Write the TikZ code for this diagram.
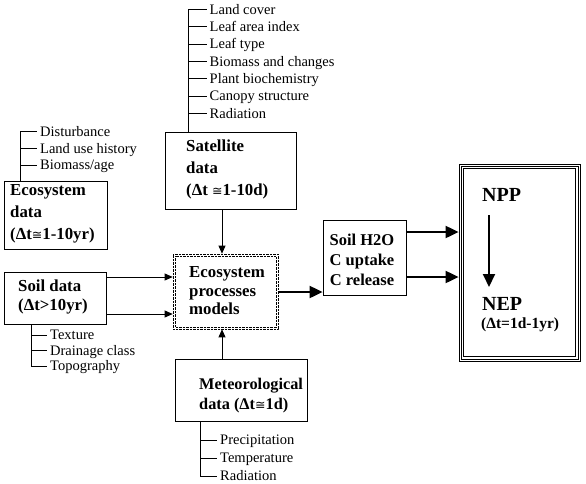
\documentclass[tikz,border=0pt]{standalone}
\usepackage{fontspec}
\setmainfont{Liberation Serif}
\newfontfamily\symfont{DejaVu Sans}
\newcommand{\cg}{{\symfont\mdseries\fontsize{12.5}{13}\selectfont ≅}}
\usetikzlibrary{arrows.meta}
\begin{document}
\begin{tikzpicture}[x=1pt,y=-1pt,
  box/.style={draw,line width=0.8pt,inner sep=0pt},
  dotline/.style={line width=0.7pt,dash pattern=on 0.7pt off 0.7pt},
  boxtxt/.style={font=\bfseries\fontsize{16.8}{22}\selectfont,align=left,inner sep=0pt,anchor=west},
  item/.style={font=\fontsize{14.5}{17}\selectfont,anchor=west,inner sep=0pt,text height=10pt,text depth=3pt},
  bracket/.style={line width=0.8pt},
  thinarrow/.style={line width=0.8pt,-{Triangle[length=8pt,width=7pt]}},
  thickarrow/.style={line width=2pt,-{Triangle[length=13pt,width=12pt]}}]
\useasboundingbox (0,0) rectangle (586,483);

% boxes
\node[box,minimum width=103pt,minimum height=68pt] (eco) at (55.5,215) {};
\node[box,minimum width=131pt,minimum height=77pt] (sat) at (230.5,170.5) {};
\node[box,minimum width=102pt,minimum height=52pt] (soil) at (55,298) {};
\node[draw,dotline,minimum width=105pt,minimum height=75pt,inner sep=0pt] (proc) at (225.5,291.5) {};
\draw[dotline] ([shift={(2.5,2.5)}]proc.north west) rectangle ([shift={(-2.5,-2.5)}]proc.south east);
\node[box,minimum width=132pt,minimum height=62pt] (met) at (241,390) {};
\node[box,minimum width=83pt,minimum height=75pt] (h2o) at (364.5,257.5) {};
\node[box,minimum width=121pt,minimum height=197pt] (npp) at (519.5,262.5) {};
\draw[line width=0.8pt] ([shift={(2.5,2.5)}]npp.north west) rectangle ([shift={(-2.5,-2.5)}]npp.south east);
\draw[line width=0.8pt] ([shift={(5,5)}]npp.north west) rectangle ([shift={(-5,-5)}]npp.south east);

% box texts
\node[boxtxt] (ecot) at (10,214) {Ecosystem\\data\\(Δt\cg1-10yr)};
\node[boxtxt] (satt) at (186,169) {Satellite\\data\\(Δt \cg1-10d)};
\node[boxtxt,font=\bfseries\fontsize{16.8}{18.5}\selectfont] (proct) at (189,291) {Ecosystem\\processes\\models};
\node[boxtxt,font=\bfseries\fontsize{16.8}{19}\selectfont] (soilt) at (18,297) {Soil data\\(Δt>10yr)};
\node[boxtxt,font=\bfseries\fontsize{16.3}{20}\selectfont] (mett) at (199,396) {Meteorological\\data (Δt\cg1d)};
\node[boxtxt,anchor=center,align=center,font=\bfseries\fontsize{16.5}{20}\selectfont] (h2ot) at (362,260) {Soil H2O\\C uptake\\C release};
\node[boxtxt,font=\bfseries\fontsize{20}{24}\selectfont] (nppt) at (482,195) {NPP};
\node[boxtxt,font=\bfseries\fontsize{20}{24}\selectfont] (nept) at (482,304) {NEP};
\node[boxtxt,font=\bfseries\fontsize{15.5}{18}\selectfont] (nepdt) at (481,325) {(Δt=1d-1yr)};

% ecosystem list
\coordinate (ecoL) at (20,0);
\draw[bracket] (36.5,131.7) -- (20,131.7) -- (eco.north -| ecoL);
\foreach \y in {148.3,165} \draw[bracket] (20,\y) -- (36.5,\y);
\node[item] (e1) at (40,133) {Disturbance};
\node[item] (e2) at (40,149.6) {Land use history};
\node[item] (e3) at (40,166.3) {Biomass/age};

% satellite list
\coordinate (satL) at (188.3,0);
\draw[bracket] (206.7,9.3) -- (188.3,9.3) -- (sat.north -| satL);
\foreach \i in {1,...,6} \draw[bracket] (188.3,9.3+17.37*\i) -- (206.7,9.3+17.37*\i);
\foreach \t [count=\i from 0] in {Land cover,Leaf area index,Leaf type,Biomass and changes,Plant biochemistry,Canopy structure,Radiation}
  \node[item] (s\i) at (209.5,10.6+17.37*\i) {\t};

% soil list
\coordinate (soilL) at (31,0);
\draw[bracket] (soil.south -| soilL) -- (31,366) -- (47,366);
\foreach \y in {335,350.5} \draw[bracket] (31,\y) -- (47,\y);
\node[item] (o1) at (50,336.3) {Texture};
\node[item] (o2) at (50,351.8) {Drainage class};
\node[item] (o3) at (50,367.3) {Topography};

% meteorological list
\coordinate (metL) at (200,0);
\draw[bracket] (met.south -| metL) -- (200,476) -- (217,476);
\foreach \y in {440,458} \draw[bracket] (200,\y) -- (217,\y);
\node[item] (r1) at (220,441.3) {Precipitation};
\node[item] (r2) at (220,459.3) {Temperature};
\node[item] (r3) at (220,477.3) {Radiation};

% connectors
\coordinate (vx) at (222,0);
\draw[thinarrow] (sat.south -| vx) -- (proc.north -| vx);
\draw[thinarrow] (met.north -| vx) -- (proc.south -| vx);
\coordinate (a1) at (0,277);
\coordinate (a2) at (0,314);
\draw[thinarrow] (soil.east |- a1) -- (proc.west |- a1);
\draw[thinarrow] (soil.east |- a2) -- (proc.west |- a2);
\coordinate (b1) at (0,292);
\draw[thickarrow] (proc.east |- b1) -- (h2o.west |- b1);
\coordinate (c1) at (0,232);
\coordinate (c2) at (0,277);
\draw[thickarrow] (h2o.east |- c1) -- (npp.west |- c1);
\draw[thickarrow] (h2o.east |- c2) -- (npp.west |- c2);
\coordinate (q1) at (489,215);
\coordinate (q2) at (489,287);
\draw[thickarrow] (q1) -- (q2);
\end{tikzpicture}
\end{document}
